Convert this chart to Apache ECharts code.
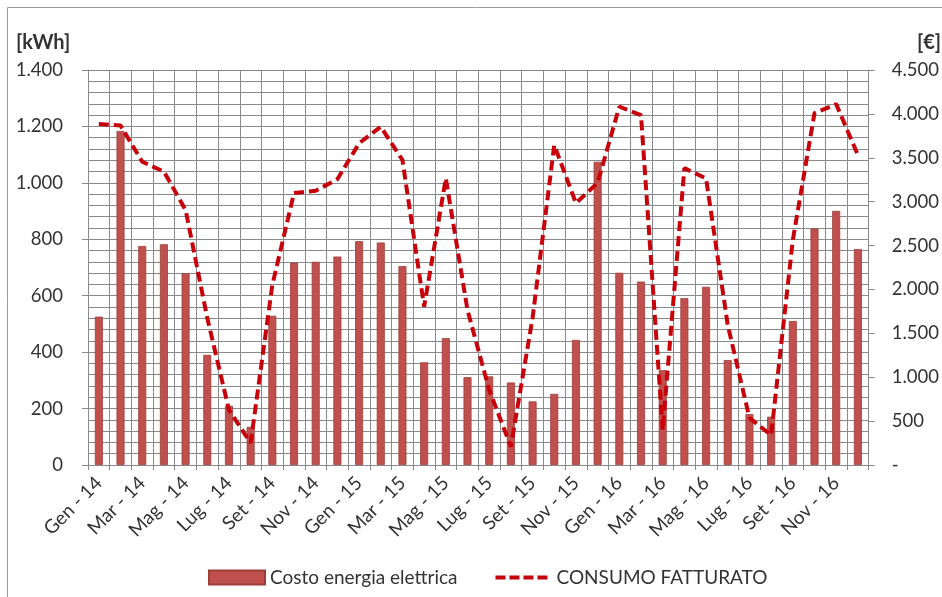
<!DOCTYPE html>
<html>
<head>
<meta charset="utf-8">
<script src="https://cdn.jsdelivr.net/npm/echarts@6/dist/echarts.min.js"></script>
<style>
  html, body { margin: 0; padding: 0; background: #ffffff; }
  #chart { width: 942px; height: 597px; }
</style>
</head>
<body>
<div id="chart"></div>
<script>
// Months from January 2014 to December 2016
const categories = [
  'Gen - 14', 'Feb - 14', 'Mar - 14', 'Apr - 14', 'Mag - 14', 'Giu - 14',
  'Lug - 14', 'Ago - 14', 'Set - 14', 'Ott - 14', 'Nov - 14', 'Dic - 14',
  'Gen - 15', 'Feb - 15', 'Mar - 15', 'Apr - 15', 'Mag - 15', 'Giu - 15',
  'Lug - 15', 'Ago - 15', 'Set - 15', 'Ott - 15', 'Nov - 15', 'Dic - 15',
  'Gen - 16', 'Feb - 16', 'Mar - 16', 'Apr - 16', 'Mag - 16', 'Giu - 16',
  'Lug - 16', 'Ago - 16', 'Set - 16', 'Ott - 16', 'Nov - 16', 'Dic - 16'
];

// Monthly electricity cost [€] (right axis)
const costoEnergia = [
  1690, 3805, 2495, 2515, 2185, 1255, 675, 435, 1700, 2305, 2315, 2375,
  2550, 2535, 2265, 1170, 1445, 1000, 1010, 940, 725, 810, 1425, 3455,
  2190, 2090, 1080, 1900, 2030, 1195, 580, 550, 1640, 2695, 2895, 2460
];

// Billed consumption [kWh] (left axis)
const consumoFatturato = [
  1209, 1203, 1075, 1040, 904, 521, 195, 78, 638, 964, 972, 1013,
  1140, 1199, 1081, 561, 1016, 549, 266, 65, 521, 1134, 928, 1000,
  1270, 1240, 124, 1052, 1016, 496, 167, 106, 797, 1247, 1279, 1099
];

const FONT = 'Lato, "Liberation Sans", sans-serif';
const GRID_COLOR = '#8a8a8a';
const TEXT_COLOR = '#333333';
const LINE_COLOR = '#c8000a';

function thousands(v) {
  return String(v).replace(/\B(?=(\d{3})+(?!\d))/g, '.');
}

const chart = echarts.init(document.getElementById('chart'), null, { renderer: 'canvas' });

chart.setOption({
  backgroundColor: '#ffffff',
  animation: false,
  textStyle: { fontFamily: FONT, color: TEXT_COLOR },
  graphic: [
    {
      type: 'rect',
      shape: { x: 7.5, y: 7.5, width: 1200, height: 1200 },
      style: { fill: 'none', stroke: '#9a9a9a', lineWidth: 1 },
      silent: true
    },
    {
      type: 'text', left: 16, top: 33,
      style: { text: '[kWh]', font: 'bold 20px ' + FONT, fill: TEXT_COLOR }
    },
    {
      type: 'text', left: 917, top: 33,
      style: { text: '[€]', font: 'bold 20px ' + FONT, fill: TEXT_COLOR }
    }
  ],
  grid: { left: 88, right: 66, top: 70, bottom: 132, containLabel: false },
  legend: {
    left: 203, top: 563,
    itemWidth: 56, itemHeight: 14, itemGap: 36,
    textStyle: { fontFamily: FONT, fontSize: 19, color: TEXT_COLOR },
    data: [
      { name: 'Costo energia elettrica', icon: 'rect' },
      {
        name: 'CONSUMO FATTURATO',
        itemStyle: { opacity: 0 },
        lineStyle: { width: 4, type: [10, 4] }
      }
    ]
  },
  xAxis: {
    type: 'category',
    data: categories,
    boundaryGap: true,
    axisLine: { show: true, lineStyle: { color: GRID_COLOR, width: 1 } },
    axisTick: { show: true, interval: 0, length: 5, lineStyle: { color: GRID_COLOR } },
    splitLine: { show: true, interval: 0, lineStyle: { color: GRID_COLOR, width: 1 } },
    axisLabel: {
      interval: 1, rotate: 45, margin: 15,
      fontFamily: FONT, fontSize: 19, color: TEXT_COLOR
    }
  },
  yAxis: [
    {
      type: 'value', position: 'left',
      min: 0, max: 1400, interval: 200,
      axisLine: { show: true, lineStyle: { color: GRID_COLOR } },
      axisTick: { show: true, length: 6, lineStyle: { color: GRID_COLOR } },
      axisLabel: {
        margin: 25, fontFamily: FONT, fontSize: 18.5, color: TEXT_COLOR,
        formatter: thousands
      },
      splitLine: { show: true, lineStyle: { color: GRID_COLOR, width: 1 } },
      minorTick: { show: false, splitNumber: 5 },
      minorSplitLine: { show: true, lineStyle: { color: GRID_COLOR, width: 1 } }
    },
    {
      type: 'value', position: 'right',
      min: 0, max: 4500, interval: 500,
      axisLine: { show: true, lineStyle: { color: GRID_COLOR } },
      axisTick: { show: true, length: 6, lineStyle: { color: GRID_COLOR } },
      axisLabel: {
        margin: 23, fontFamily: FONT, fontSize: 18.5, color: TEXT_COLOR,
        formatter: v => (v === 0 ? '-' : thousands(v))
      },
      splitLine: { show: false }
    }
  ],
  series: [
    {
      name: 'Costo energia elettrica',
      type: 'bar',
      yAxisIndex: 1,
      data: costoEnergia,
      barWidth: 8,
      itemStyle: { color: '#c0504d', borderColor: '#9e3e3b', borderWidth: 0.8 }
    },
    {
      name: 'CONSUMO FATTURATO',
      type: 'line',
      yAxisIndex: 0,
      data: consumoFatturato,
      symbol: 'none',
      smooth: false,
      lineStyle: { color: LINE_COLOR, width: 4, type: [10, 5] },
      itemStyle: { color: LINE_COLOR },
      z: 3
    }
  ]
});
</script>
</body>
</html>
